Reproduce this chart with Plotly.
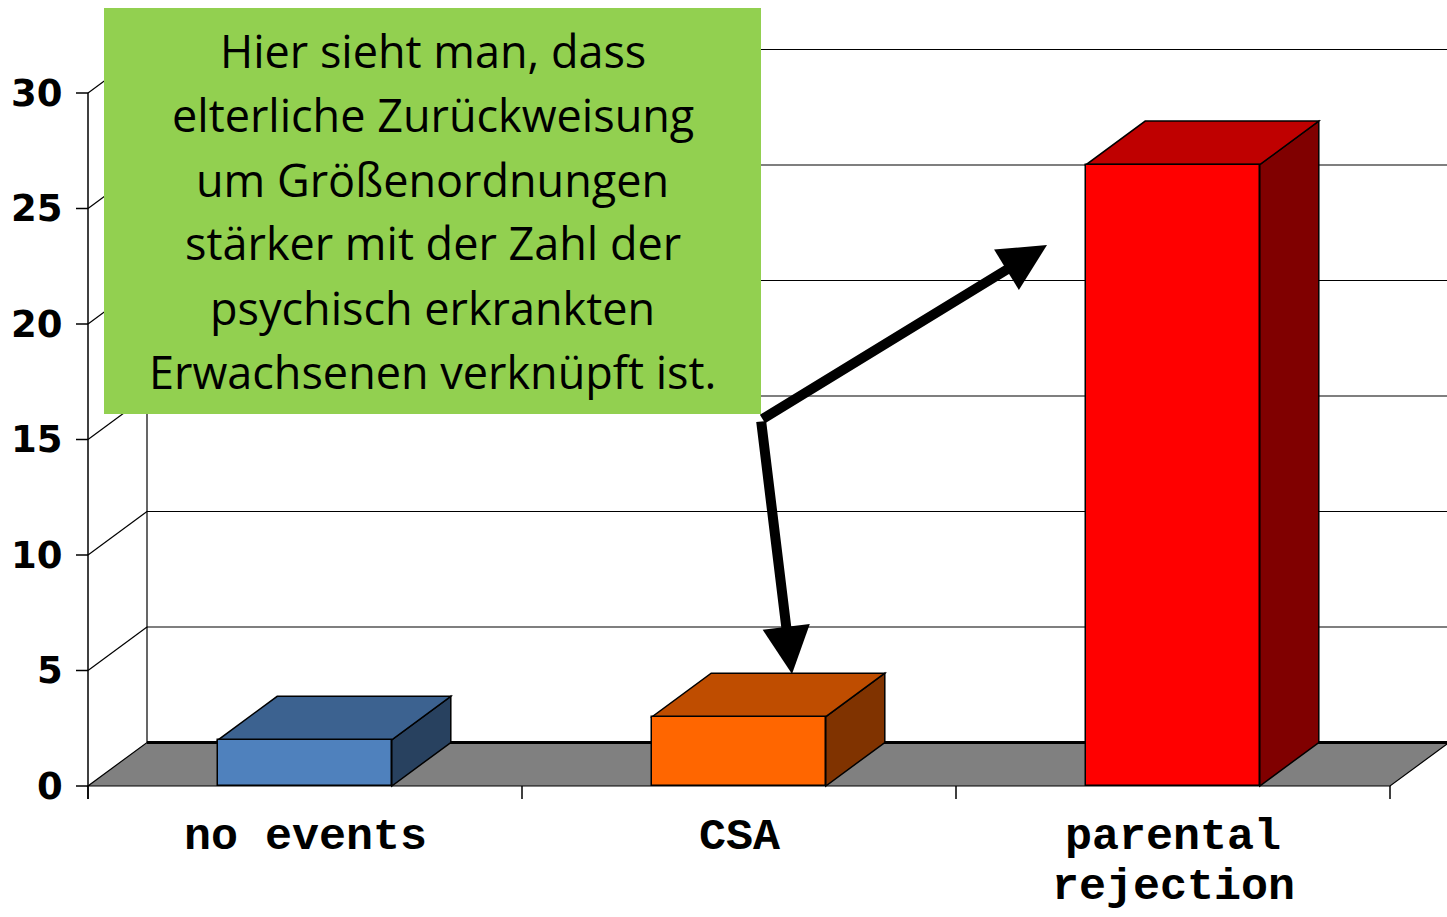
import plotly.graph_objects as go

# --- data ---------------------------------------------------------------
categories = ["no events", "CSA", "parental<br>rejection"]
values = [2.0, 3.0, 26.9]
y_ticks = [0, 5, 10, 15, 20, 25, 30]

front_colors = ["#4F81BD", "#FF6600", "#FF0000"]
top_colors = ["#3C6290", "#BF4D00", "#BF0000"]
side_colors = ["#28415F", "#803300", "#800000"]

note_lines = [
    "Hier sieht man, dass",
    "elterliche Zurückweisung",
    "um Größenordnungen",
    "stärker mit der Zahl der",
    "psychisch erkrankten",
    "Erwachsenen verknüpft ist.",
]

# --- geometry of the pseudo-3D frame (data units) -------------------------
W, H = 1447, 917
X_LEFT, X_RIGHT = -0.5, len(categories) - 0.5
PX_PER_CAT = 434.0
PX_PER_UNIT = 23.1
x_min = X_LEFT - 88 / PX_PER_CAT
x_max = x_min + W / PX_PER_CAT
y_min = -(H - 786) / PX_PER_UNIT
y_max = y_min + H / PX_PER_UNIT

DX = 59 / PX_PER_CAT      # depth offset to the right
DY = 43.5 / PX_PER_UNIT   # depth offset upwards
BAR_W = 0.4
Y_TOP = max(y_ticks)


def poly(pts):
    return "M " + " L ".join(f"{x},{y}" for x, y in pts) + " Z"


shapes = []

# floor
shapes.append(dict(type="path", layer="below",
                   path=poly([(X_LEFT, 0), (X_RIGHT, 0), (X_RIGHT + DX, DY), (X_LEFT + DX, DY)]),
                   fillcolor="#808080", line=dict(color="black", width=1.2)))
shapes.append(dict(type="line", layer="below", x0=X_LEFT + DX, x1=X_RIGHT + DX, y0=DY, y1=DY,
                   line=dict(color="black", width=3)))

# back wall: gridlines, left edge, diagonal connectors
for t in y_ticks[1:]:
    shapes.append(dict(type="line", layer="below", x0=X_LEFT + DX, x1=X_RIGHT + DX,
                       y0=t + DY, y1=t + DY, line=dict(color="black", width=1.2)))
shapes.append(dict(type="line", layer="below", x0=X_LEFT + DX, x1=X_LEFT + DX,
                   y0=DY, y1=Y_TOP + DY, line=dict(color="black", width=1.2)))
for t in y_ticks[1:]:
    shapes.append(dict(type="line", layer="below", x0=X_LEFT, x1=X_LEFT + DX,
                       y0=t, y1=t + DY, line=dict(color="black", width=1.2)))

# front value axis with ticks
shapes.append(dict(type="line", layer="below", x0=X_LEFT, x1=X_LEFT,
                   y0=-13 / PX_PER_UNIT, y1=Y_TOP, line=dict(color="black", width=1.5)))
for t in y_ticks:
    shapes.append(dict(type="line", layer="below", x0=X_LEFT - 12 / PX_PER_CAT, x1=X_LEFT,
                       y0=t, y1=t, line=dict(color="black", width=1.5)))

# category axis ticks
for i in range(len(categories) + 1):
    xc = X_LEFT + i
    shapes.append(dict(type="line", layer="below", x0=xc, x1=xc,
                       y0=0, y1=-13 / PX_PER_UNIT, line=dict(color="black", width=1.5)))

# bar top and side faces
for i, v in enumerate(values):
    x0, x1 = i - BAR_W / 2, i + BAR_W / 2
    shapes.append(dict(type="path", layer="below",
                       path=poly([(x1, 0), (x1, v), (x1 + DX, v + DY), (x1 + DX, DY)]),
                       fillcolor=side_colors[i], line=dict(color="black", width=1.5)))
    shapes.append(dict(type="path", layer="below",
                       path=poly([(x0, v), (x1, v), (x1 + DX, v + DY), (x0 + DX, v + DY)]),
                       fillcolor=top_colors[i], line=dict(color="black", width=1.5)))

# green note box
BOX = (104, 8, 761, 414)  # left, top, right, bottom in pixels
shapes.append(dict(type="rect", layer="above", xref="paper", yref="paper",
                   x0=BOX[0] / W, x1=BOX[2] / W, y0=1 - BOX[3] / H, y1=1 - BOX[1] / H,
                   fillcolor="#92D050", line=dict(width=0)))

fig = go.Figure()
fig.add_trace(go.Bar(
    x=list(range(len(categories))), y=values, width=BAR_W,
    marker=dict(color=front_colors, line=dict(color="black", width=1.5)),
    hoverinfo="skip", showlegend=False,
))

annotations = []
# value-axis labels
for t in y_ticks:
    annotations.append(dict(x=X_LEFT - 23 / PX_PER_CAT, y=t, xref="x", yref="y",
                            text=str(t), showarrow=False, xanchor="right", yanchor="middle",
                            font=dict(family="DejaVu Sans", size=37, color="black", weight="bold")))
# category labels
for i, c in enumerate(categories):
    for j, line in enumerate(c.split("<br>")):
        annotations.append(dict(x=i, y=-(837 + 50 * j - 786) / PX_PER_UNIT, xref="x", yref="y",
                                text=line, showarrow=False, xanchor="center", yanchor="middle",
                                font=dict(family="Liberation Mono", size=45, color="black",
                                          weight="bold")))
# note text
for j, line in enumerate(note_lines):
    annotations.append(dict(x=(BOX[0] + BOX[2]) / 2 / W, y=1 - (51 + 64 * j) / H,
                            xref="paper", yref="paper", text=line, showarrow=False,
                            xanchor="center", yanchor="middle",
                            font=dict(family="Open Sans", size=45, color="black")))

# arrows from the note box corner
start_px = (761, 420)
for tip_px in [(1047, 245), (792, 674)]:
    annotations.append(dict(
        x=tip_px[0] / W, y=1 - tip_px[1] / H, xref="paper", yref="paper",
        ax=start_px[0] - tip_px[0], ay=start_px[1] - tip_px[1], axref="pixel", ayref="pixel",
        text="", showarrow=True, arrowhead=2, arrowsize=0.95, arrowwidth=10, arrowcolor="black",
        standoff=0, startstandoff=0,
    ))

fig.update_layout(
    width=W, height=H,
    margin=dict(l=0, r=0, t=0, b=0, pad=0),
    paper_bgcolor="white", plot_bgcolor="white",
    xaxis=dict(range=[x_min, x_max], visible=False, fixedrange=True),
    yaxis=dict(range=[y_min, y_max], visible=False, fixedrange=True),
    shapes=shapes, annotations=annotations,
    bargap=0,
)

fig.write_html("out.html")
